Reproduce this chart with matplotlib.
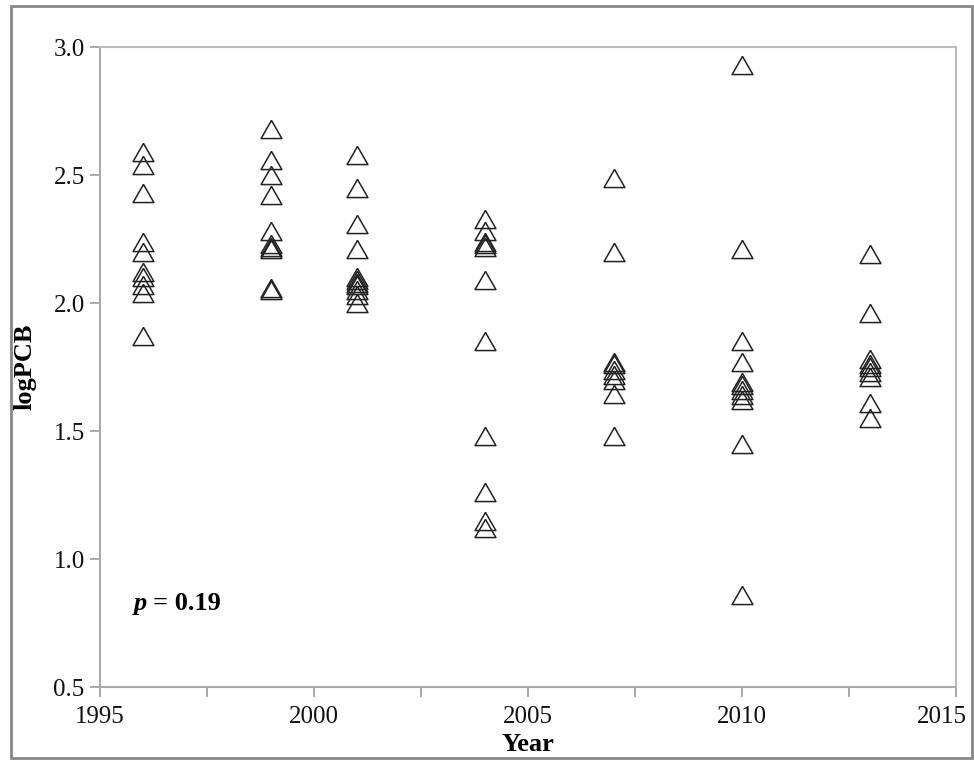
import matplotlib
matplotlib.use("Agg")
import matplotlib.pyplot as plt
from matplotlib.patches import Rectangle
from matplotlib.ticker import MultipleLocator, FuncFormatter

# logPCB measurements per sampling year
years = [1996, 1999, 2001, 2004, 2007, 2010, 2013]
log_pcb = {
    1996: [2.59, 2.54, 2.43, 2.24, 2.20, 2.12, 2.10, 2.07, 2.04, 1.87],
    1999: [2.68, 2.56, 2.50, 2.42, 2.28, 2.23, 2.22, 2.21, 2.06, 2.05],
    2001: [2.58, 2.45, 2.31, 2.21, 2.10, 2.09, 2.08, 2.07, 2.05, 2.03, 2.00],
    2004: [2.33, 2.28, 2.24, 2.23, 2.22, 2.09, 1.85, 1.48, 1.26, 1.15, 1.12],
    2007: [2.49, 2.20, 1.77, 1.76, 1.74, 1.72, 1.70, 1.645, 1.48],
    2010: [2.93, 2.21, 1.85, 1.77, 1.69, 1.68, 1.66, 1.64, 1.62, 1.45, 0.86],
    2013: [2.19, 1.96, 1.78, 1.76, 1.75, 1.73, 1.71, 1.61, 1.55],
}
p_text = "= 0.19"

plt.rcParams["font.family"] = ["Liberation Serif", "DejaVu Serif"]

fig = plt.figure(figsize=(9.74, 7.61), dpi=100)
ax = fig.add_axes([100 / 974, 1 - 687 / 761, 856 / 974, 640 / 761])

# open triangle, a bit wider than tall
tri = [(0, 0.87), (-1, -0.87), (1, -0.87), (0, 0.87)]
for yr in years:
    vals = log_pcb[yr]
    ax.plot([yr] * len(vals), vals, linestyle="none", marker=tri, ms=15,
            mfc="none", mec="#222222", mew=1.1)

ax.set_xlim(1995, 2015)
ax.set_ylim(0.5, 3.0)
ax.xaxis.set_major_locator(MultipleLocator(5))
ax.xaxis.set_minor_locator(MultipleLocator(2.5))
ax.yaxis.set_major_locator(MultipleLocator(0.5))
ax.yaxis.set_major_formatter(matplotlib.ticker.FormatStrFormatter("%.1f"))
# the 2015 label is drawn separately so it can sit inside the frame
ax.xaxis.set_major_formatter(
    FuncFormatter(lambda v, pos: "" if v >= 2015 else f"{v:.0f}"))
ax.tick_params(which="both", direction="out", color="#999999", width=1.2,
               length=7, labelsize=18, labelcolor="#111111")
ax.tick_params(axis="x", pad=7)
ax.tick_params(axis="y", pad=4)
for s in ax.spines.values():
    s.set_color("#bbbbbb")
    s.set_linewidth(1.5)
ax.spines["left"].set_color("#aaaaaa")
ax.spines["bottom"].set_color("#aaaaaa")

ax.annotate("2015", xy=(2015, 0.5), xycoords="data", xytext=(-10, -14),
            textcoords="offset points", ha="center", va="top",
            fontsize=18, color="#111111", annotation_clip=False)

ax.set_xlabel("Year", fontsize=19, fontweight="bold", labelpad=3)
ax.set_ylabel("logPCB", fontsize=19, fontweight="bold", labelpad=12)

p_lab = ax.text(0.04, 0.13, "p", transform=ax.transAxes, fontsize=19,
                fontweight="bold", fontstyle="italic", ha="left", va="center")
ax.annotate(p_text, xy=(1, 0.5), xycoords=p_lab, xytext=(4, 0),
            textcoords="offset points", fontsize=19, fontweight="bold",
            ha="left", va="center")

# outer frame around the whole figure
fig.patches.append(Rectangle((11 / 974, 3 / 761), 961 / 974, 752 / 761,
                             transform=fig.transFigure, fill=False,
                             edgecolor="#888888", linewidth=2))

fig.savefig("out.png", dpi=100)
